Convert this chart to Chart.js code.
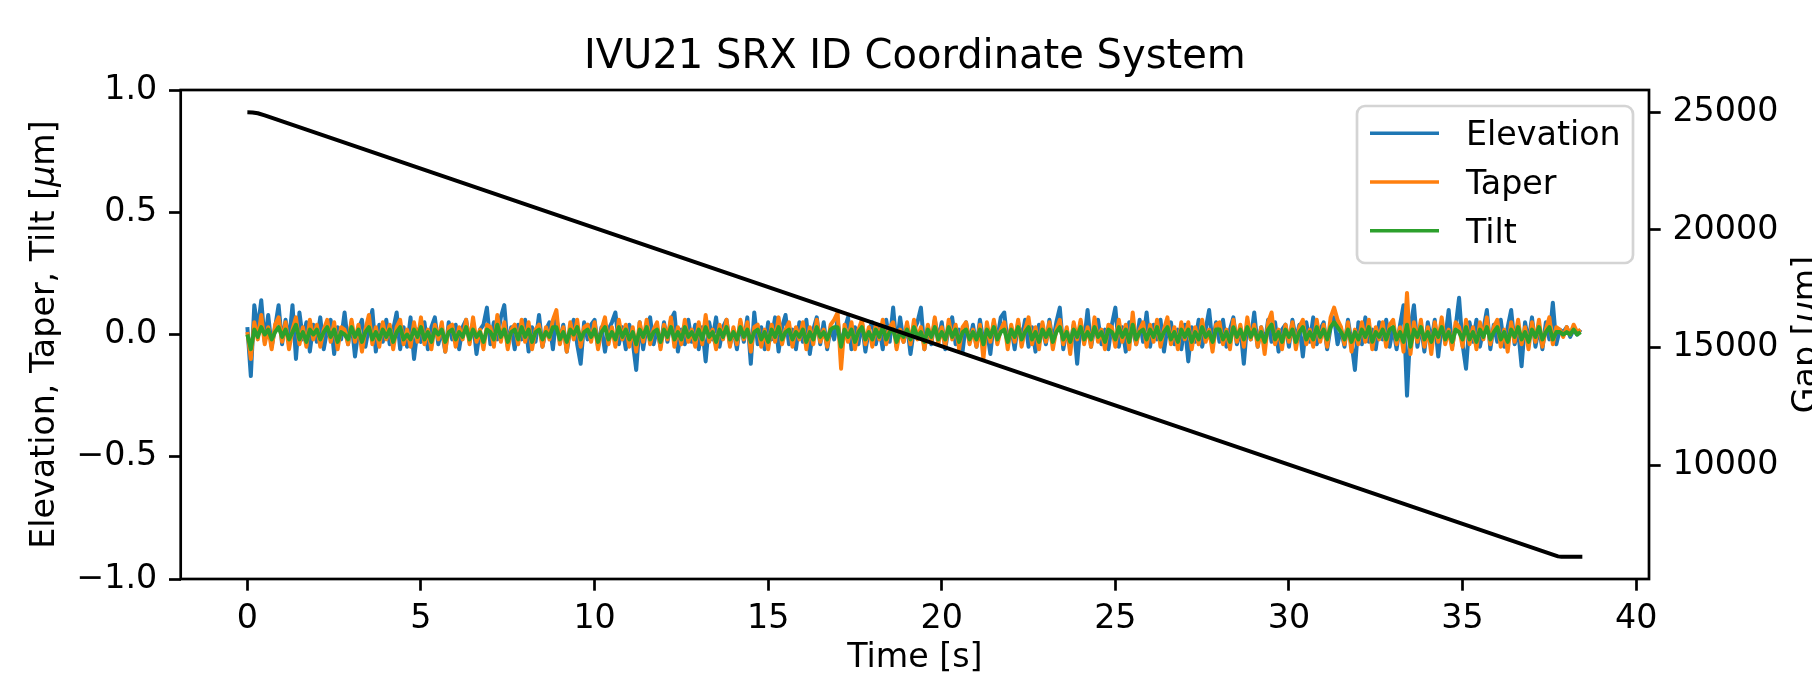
<!DOCTYPE html>
<html>
<head>
<meta charset="utf-8">
<script src="https://cdn.jsdelivr.net/npm/chart.js@4.4.1/dist/chart.umd.min.js"></script>
<style>
  html, body { margin: 0; padding: 0; background: #fff; }
  #wrap { width: 1812px; height: 677px; }
</style>
</head>
<body>
<div id="wrap"><canvas id="chart" width="1812" height="677"></canvas></div>
<script>
// ── DATA ──
// noise traces are sampled every 0.1 s from t = 0 (one row = one second)
const sampleStep = 0.1;

const elevation = [
  0.03, -0.17, 0.12, 0.02, 0.14, -0.03, 0.08, -0.05, 0.03, 0.12,
  -0.04, 0.06, -0.03, 0.12, -0.10, 0.09, -0.02, 0.05, -0.07, 0.04,
  -0.03, 0.07, -0.06, 0.02, 0.06, -0.08, 0.03, -0.02, 0.09, -0.04,
  0.05, -0.09, 0.02, 0.06, -0.05, 0.03, 0.10, -0.07, 0.04, -0.03,
  0.06, -0.04, 0.02, 0.09, -0.06, 0.03, -0.05, 0.07, -0.10, 0.02,
  -0.03, 0.05, -0.06, 0.03, 0.07, -0.04, 0.02, -0.07, 0.05, -0.02,
  0.04, -0.06, 0.03, 0.06, -0.03, 0.05, -0.08, 0.02, 0.04, 0.11,
  -0.04, 0.05, -0.02, 0.07, 0.12, -0.05, 0.03, -0.06, 0.04, -0.02,
  0.06, -0.07, 0.03, -0.03, 0.08, -0.05, 0.02, 0.05, -0.06, 0.07,
  -0.03, 0.04, -0.07, 0.02, 0.06, -0.04, -0.12, 0.05, -0.02, 0.04,
  0.06, -0.05, 0.03, -0.07, 0.02, 0.05, 0.09, -0.04, 0.03, -0.06,
  0.04, -0.03, -0.145, 0.05, -0.06, 0.03, 0.07, -0.04, 0.02, -0.05,
  0.05, -0.03, 0.06, 0.09, -0.07, 0.02, -0.04, 0.06, -0.03, 0.04,
  -0.06, 0.03, -0.11, 0.05, -0.02, 0.07, -0.05, 0.03, 0.06, -0.04,
  0.02, -0.06, 0.05, -0.03, 0.07, -0.12, 0.09, -0.04, 0.03, -0.06,
  0.05, -0.02, 0.07, -0.07, 0.03, 0.08, -0.04, 0.02, -0.06, 0.05,
  -0.03, 0.06, -0.08, 0.02, 0.07, -0.04, 0.05, -0.06, 0.03, -0.02,
  0.06, -0.05, 0.02, 0.07, -0.06, 0.03, -0.04, 0.05, -0.07, 0.02,
  0.05, -0.04, 0.03, -0.06, 0.06, -0.03, 0.11, -0.05, 0.07, -0.03,
  0.04, -0.08, 0.02, 0.05, 0.11, -0.06, 0.03, -0.04, 0.06, -0.02,
  0.05, -0.06, 0.03, 0.07, -0.04, 0.02, -0.07, 0.05, -0.03, 0.04,
  -0.05, 0.06, -0.03, 0.02, -0.08, 0.05, -0.02, 0.07, 0.09, -0.04,
  0.03, -0.06, 0.05, -0.02, 0.06, -0.05, 0.03, -0.07, 0.04, 0.02,
  -0.04, 0.06, -0.03, 0.05, 0.11, -0.06, 0.02, -0.05, 0.04, -0.12,
  0.05, -0.03, 0.10, -0.05, 0.03, 0.06, -0.04, 0.02, -0.06, 0.04,
  0.11, -0.05, 0.03, -0.07, 0.05, 0.02, -0.04, 0.06, -0.03, 0.09,
  -0.05, 0.04, -0.02, 0.06, -0.07, 0.03, 0.05, -0.04, 0.02, -0.06,
  0.04, -0.11, 0.03, -0.03, 0.06, -0.05, 0.02, 0.10, -0.04, 0.05,
  -0.03, 0.06, -0.05, 0.02, 0.07, -0.04, 0.03, -0.12, 0.05, -0.02,
  0.09, -0.05, 0.03, -0.04, 0.06, -0.03, 0.05, -0.07, 0.02, 0.04,
  -0.05, 0.06, -0.02, 0.04, -0.09, 0.05, -0.03, 0.07, -0.04, 0.02,
  0.05, -0.06, 0.03, 0.07, -0.04, 0.02, -0.05, 0.06, -0.03, -0.145,
  0.05, -0.04, 0.07, -0.03, 0.02, -0.06, 0.05, -0.02, 0.06, -0.05,
  0.03, -0.06, 0.04, 0.12, -0.25, 0.03, 0.12, -0.05, 0.04, -0.07,
  0.05, -0.03, 0.06, -0.09, 0.04, -0.02, 0.10, -0.05, 0.03, 0.15,
  -0.04, -0.14, 0.05, -0.03, 0.06, -0.05, 0.02, 0.10, -0.06, 0.04,
  -0.03, 0.06, -0.05, 0.03, 0.10, -0.04, 0.02, -0.13, 0.05, -0.03,
  0.07, -0.05, 0.03, -0.06, 0.05, -0.02, 0.13, -0.04, 0.02, 0.01,
  0.03, -0.01, 0.02, 0.00, 0.02
];

const taper = [
  0.01, -0.10, 0.05, -0.02, 0.08, -0.04, 0.03, -0.06, 0.04, 0.07,
  -0.03, 0.05, -0.06, 0.02, 0.07, -0.04, 0.03, -0.05, 0.06, -0.02,
  0.04, -0.05, 0.02, 0.06, -0.03, 0.05, -0.06, 0.03, 0.02, -0.04,
  0.06, -0.03, 0.04, -0.07, 0.02, 0.08, -0.04, 0.03, -0.05, 0.05,
  -0.02, 0.04, -0.06, 0.03, 0.06, -0.04, 0.02, -0.05, 0.05, -0.03,
  0.07, -0.04, 0.02, -0.06, 0.04, -0.02, 0.05, -0.07, 0.03, 0.04,
  -0.05, 0.03, -0.02, 0.06, -0.04, 0.07, -0.03, 0.02, -0.06, 0.04,
  0.03, -0.05, 0.08, -0.03, 0.05, -0.06, 0.02, 0.04, -0.04, 0.06,
  -0.03, 0.05, -0.06, 0.02, 0.04, -0.05, 0.03, -0.02, 0.06, 0.10,
  -0.04, 0.03, -0.07, 0.05, -0.02, 0.06, -0.05, 0.03, 0.04, -0.03,
  0.05, -0.06, 0.02, 0.07, -0.04, 0.03, -0.05, 0.06, -0.02, 0.04,
  -0.05, 0.03, -0.07, 0.05, -0.03, 0.06, -0.04, 0.02, 0.05, -0.06,
  0.04, -0.02, 0.07, -0.05, 0.03, -0.04, 0.06, -0.03, 0.02, -0.05,
  0.05, -0.04, 0.08, -0.03, 0.02, -0.06, 0.04, -0.02, 0.06, -0.05,
  0.03, -0.04, 0.06, -0.02, 0.05, -0.07, 0.03, 0.04, -0.05, 0.02,
  -0.06, 0.04, -0.03, 0.07, -0.04, 0.02, 0.05, -0.05, 0.03, -0.02,
  0.05, -0.06, 0.03, -0.04, 0.06, -0.03, 0.02, -0.05, 0.04, 0.06,
  0.09, -0.14, 0.04, -0.03, 0.05, -0.06, 0.02, 0.06, -0.04, 0.03,
  -0.05, 0.04, -0.02, 0.06, -0.04, 0.03, 0.05, -0.06, 0.02, -0.03,
  0.05, -0.04, 0.06, -0.02, 0.03, -0.06, 0.04, -0.03, 0.07, -0.04,
  0.03, -0.05, 0.06, -0.02, 0.04, -0.06, 0.03, 0.05, -0.04, 0.02,
  -0.05, 0.04, -0.10, 0.05, -0.03, 0.06, -0.04, 0.02, 0.05, -0.06,
  0.04, -0.03, 0.06, -0.05, 0.02, 0.07, -0.04, 0.03, -0.06, 0.05,
  -0.03, 0.05, -0.06, 0.02, 0.06, -0.04, 0.03, -0.08, 0.05, -0.02,
  0.06, -0.04, 0.03, -0.05, 0.07, -0.03, 0.02, -0.06, 0.04, 0.03,
  -0.05, 0.06, -0.03, 0.04, -0.06, 0.09, -0.04, 0.02, 0.05, -0.05,
  0.04, -0.03, 0.06, -0.05, 0.02, 0.07, -0.04, 0.03, -0.06, 0.05,
  -0.02, 0.05, -0.06, 0.03, -0.04, 0.06, -0.03, 0.02, -0.07, 0.04,
  0.05, -0.04, 0.02, -0.06, 0.06, -0.03, 0.04, -0.05, 0.07, -0.02,
  0.04, -0.05, 0.03, -0.08, 0.05, 0.09, -0.04, 0.02, -0.06, 0.04,
  -0.03, 0.05, -0.06, 0.03, 0.06, -0.04, 0.02, -0.05, 0.06, -0.03,
  0.04, -0.05, 0.07, 0.11, 0.06, 0.03, -0.04, 0.05, -0.07, 0.02,
  -0.04, 0.05, -0.03, 0.06, -0.06, 0.03, -0.02, 0.05, -0.05, 0.04,
  0.06, -0.04, 0.03, -0.07, 0.17, -0.08, 0.05, -0.03, 0.06, -0.05,
  0.03, -0.08, 0.05, -0.03, 0.07, -0.04, 0.02, -0.06, 0.05, 0.03,
  -0.05, 0.06, -0.04, 0.03, -0.06, 0.05, -0.02, 0.07, -0.04, 0.03,
  0.06, -0.05, 0.02, -0.07, 0.05, -0.03, 0.06, -0.04, 0.03, -0.06,
  0.05, -0.03, 0.06, -0.05, 0.02, 0.07, -0.04, 0.03, 0.02, -0.01,
  0.03, 0.00, 0.04, 0.01, 0.02
];

const tilt = [
  0.00, -0.06, 0.02, -0.01, 0.03, 0.00, 0.02, -0.02, 0.01, 0.03,
  -0.01, 0.02, -0.02, 0.01, 0.04, -0.02, 0.01, -0.03, 0.02, 0.00,
  0.02, -0.02, 0.01, 0.03, -0.01, 0.02, -0.03, 0.01, 0.00, -0.02,
  0.03, -0.01, 0.02, -0.03, 0.01, 0.03, -0.02, 0.01, -0.02, 0.02,
  -0.01, 0.02, -0.03, 0.01, 0.03, -0.02, 0.00, -0.02, 0.02, -0.01,
  0.03, -0.02, 0.01, -0.03, 0.02, 0.00, 0.02, -0.03, 0.01, 0.02,
  -0.02, 0.01, -0.01, 0.03, -0.02, 0.02, -0.01, 0.01, -0.03, 0.02,
  0.01, -0.02, 0.04, -0.01, 0.02, -0.03, 0.01, 0.02, -0.02, 0.03,
  -0.01, 0.02, -0.03, 0.01, 0.02, -0.02, 0.01, -0.01, 0.03, 0.03,
  -0.02, 0.01, -0.03, 0.02, 0.00, 0.03, -0.02, 0.01, 0.02, -0.01,
  0.02, -0.03, 0.01, 0.03, -0.02, 0.01, -0.02, 0.03, -0.01, 0.02,
  -0.02, 0.01, -0.04, 0.02, -0.01, 0.03, -0.02, 0.01, 0.02, -0.03,
  0.02, -0.01, 0.03, -0.02, 0.01, -0.02, 0.03, -0.01, 0.01, -0.02,
  0.02, -0.02, 0.03, -0.01, 0.01, -0.03, 0.02, -0.01, 0.03, -0.02,
  0.01, -0.02, 0.03, -0.01, 0.02, -0.03, 0.01, 0.02, -0.02, 0.01,
  -0.03, 0.02, -0.01, 0.03, -0.02, 0.01, 0.02, -0.02, 0.01, -0.01,
  0.02, -0.03, 0.01, -0.02, 0.03, -0.01, 0.01, -0.02, 0.02, 0.03,
  0.03, -0.05, 0.02, -0.01, 0.02, -0.03, 0.01, 0.03, -0.02, 0.01,
  -0.02, 0.02, -0.01, 0.03, -0.02, 0.01, 0.02, -0.03, 0.01, -0.01,
  0.02, -0.02, 0.03, -0.01, 0.01, -0.03, 0.02, -0.01, 0.03, -0.02,
  0.01, -0.02, 0.03, -0.01, 0.02, -0.03, 0.01, 0.02, -0.02, 0.01,
  -0.02, 0.02, -0.04, 0.02, -0.01, 0.03, -0.02, 0.01, 0.02, -0.03,
  0.02, -0.01, 0.03, -0.02, 0.01, 0.03, -0.02, 0.01, -0.03, 0.02,
  -0.01, 0.02, -0.03, 0.01, 0.03, -0.02, 0.01, -0.03, 0.02, -0.01,
  0.03, -0.02, 0.01, -0.02, 0.03, -0.01, 0.01, -0.03, 0.02, 0.01,
  -0.02, 0.03, -0.01, 0.02, -0.03, 0.04, -0.02, 0.01, 0.02, -0.02,
  0.02, -0.01, 0.03, -0.02, 0.01, 0.03, -0.02, 0.01, -0.03, 0.02,
  -0.01, 0.02, -0.03, 0.01, -0.02, 0.03, -0.01, 0.01, -0.03, 0.02,
  0.02, -0.02, 0.01, -0.03, 0.03, -0.01, 0.02, -0.02, 0.03, -0.01,
  0.02, -0.02, 0.01, -0.03, 0.02, 0.04, -0.02, 0.01, -0.03, 0.02,
  -0.01, 0.02, -0.03, 0.01, 0.03, -0.02, 0.01, -0.02, 0.03, -0.01,
  0.02, -0.02, 0.03, 0.05, 0.03, 0.01, -0.02, 0.02, -0.03, 0.01,
  -0.02, 0.02, -0.01, 0.03, -0.03, 0.01, -0.01, 0.02, -0.02, 0.02,
  0.03, -0.02, 0.01, -0.03, 0.04, -0.05, 0.02, -0.01, 0.03, -0.02,
  0.01, -0.03, 0.02, -0.01, 0.03, -0.02, 0.01, -0.03, 0.02, 0.01,
  -0.02, 0.03, -0.02, 0.01, -0.03, 0.02, -0.01, 0.03, -0.02, 0.01,
  0.03, -0.02, 0.01, -0.03, 0.02, -0.01, 0.03, -0.02, 0.01, -0.03,
  0.02, -0.01, 0.03, -0.02, 0.01, 0.03, -0.02, 0.01, 0.01, 0.00,
  0.01, 0.00, 0.02, 0.00, 0.01
];

// gap ramp (right axis)
const gapTime  = [0, 0.15, 0.3, 0.5, 37.6, 37.75, 37.85, 38.45];
const gapValue = [25000, 24995, 24960, 24870, 6207, 6135, 6120, 6120];

const xTicks   = [0, 5, 10, 15, 20, 25, 30, 35, 40];
const yTicks   = [-1, -0.5, 0, 0.5, 1];
const gapTicks = [10000, 15000, 20000, 25000];

const FONT = "'DejaVu Sans', sans-serif";
const FS = 33.3;

// ── HELPERS ──
function pts(values) {
  return values.map((v, i) => ({ x: i * sampleStep, y: v }));
}

function ls(color, order, axisId) {
  return {
    borderColor: color,
    backgroundColor: 'transparent',
    borderWidth: 4,
    pointRadius: 0,
    tension: 0,
    fill: false,
    borderJoinStyle: 'round',
    order: order,
    yAxisID: axisId || 'y'
  };
}

// text with italic runs, centred on (cx, y) in current transform
function drawRuns(ctx, runs, cx, y) {
  const widths = runs.map(([t, it]) => {
    ctx.font = (it ? 'italic ' : '') + FS + 'px ' + FONT;
    return ctx.measureText(t).width;
  });
  let x = cx - widths.reduce((a, b) => a + b, 0) / 2;
  ctx.textAlign = 'left';
  runs.forEach(([t, it], i) => {
    ctx.font = (it ? 'italic ' : '') + FS + 'px ' + FONT;
    ctx.fillText(t, x, y);
    x += widths[i];
  });
}

// ── FRAME, TITLES, LEGEND ──
const decor = {
  id: 'decor',
  afterDraw(chart) {
    const { ctx, chartArea: a } = chart;
    const midX = (a.left + a.right) / 2;
    const midY = (a.top + a.bottom) / 2;
    ctx.save();
    ctx.fillStyle = '#000';
    ctx.textBaseline = 'alphabetic';

    // axes frame
    ctx.strokeStyle = '#000';
    ctx.lineWidth = 2.7;
    ctx.strokeRect(a.left, a.top, a.right - a.left, a.bottom - a.top);

    // title
    ctx.font = '40px ' + FONT;
    ctx.textAlign = 'center';
    ctx.fillText('IVU21 SRX ID Coordinate System', midX, 67.5);

    // x label
    ctx.font = FS + 'px ' + FONT;
    ctx.fillText('Time [s]', midX, 667);

    // left y label
    ctx.save();
    ctx.translate(54, midY);
    ctx.rotate(-Math.PI / 2);
    drawRuns(ctx, [['Elevation, Taper, Tilt [', false], ['\u03bc', true], ['m]', false]], 0, 0);
    ctx.restore();

    // right y label (runs off the canvas edge, as in the original)
    ctx.save();
    ctx.translate(1816, midY);
    ctx.rotate(-Math.PI / 2);
    drawRuns(ctx, [['Gap [', false], ['\u03bc', true], ['m]', false]], 0, 0);
    ctx.restore();

    // legend
    const box = { x: 1357, y: 106, w: 276, h: 157 };
    ctx.beginPath();
    ctx.roundRect(box.x, box.y, box.w, box.h, 8);
    ctx.fillStyle = 'rgba(255,255,255,0.8)';
    ctx.fill();
    ctx.strokeStyle = '#d4d4d4';
    ctx.lineWidth = 2.7;
    ctx.stroke();
    const items = chart.data.datasets.filter(d => d.inLegend);
    items.forEach((d, i) => {
      const y = 133.3 + i * 48.7;
      ctx.beginPath();
      ctx.moveTo(1370, y);
      ctx.lineTo(1439, y);
      ctx.strokeStyle = d.borderColor;
      ctx.lineWidth = 3.5;
      ctx.stroke();
      ctx.fillStyle = '#000';
      ctx.font = FS + 'px ' + FONT;
      ctx.textAlign = 'left';
      ctx.fillText(d.label, 1466, y + 12);
    });
    ctx.restore();
  }
};

// ── CHART ──
const tickFont = { family: FONT, size: FS };
const tickGrid = {
  display: true,
  drawOnChartArea: false,
  drawTicks: true,
  tickLength: 11.7,
  tickWidth: 2.7,
  tickColor: '#000'
};

new Chart(document.getElementById('chart').getContext('2d'), {
  type: 'line',
  data: {
    datasets: [
      { label: 'Gap', data: gapTime.map((t, i) => ({ x: t, y: gapValue[i] })), ...ls('#000000', 0, 'y2') },
      { label: 'Elevation', inLegend: true, data: pts(elevation), ...ls('#1f77b4', 3) },
      { label: 'Taper', inLegend: true, data: pts(taper), ...ls('#ff7f0e', 2) },
      { label: 'Tilt', inLegend: true, data: pts(tilt), ...ls('#2ca02c', 1) }
    ]
  },
  options: {
    responsive: false,
    animation: false,
    devicePixelRatio: 1,
    parsing: false,
    normalized: true,
    layout: { padding: { top: 90, left: 0, right: 0, bottom: 0 } },
    plugins: {
      legend: { display: false },
      title: { display: false },
      tooltip: { enabled: false }
    },
    scales: {
      x: {
        type: 'linear',
        position: 'bottom',
        min: -1.92,
        max: 40.37,
        grid: tickGrid,
        border: { display: false },
        afterBuildTicks: s => { s.ticks = xTicks.map(v => ({ value: v })); },
        afterFit: s => { s.height = 98; },
        ticks: {
          font: tickFont,
          color: '#000',
          padding: 9,
          maxRotation: 0,
          autoSkip: false,
          callback: v => String(v)
        }
      },
      y: {
        type: 'linear',
        position: 'left',
        min: -1,
        max: 1,
        grid: tickGrid,
        border: { display: false },
        afterBuildTicks: s => { s.ticks = yTicks.map(v => ({ value: v })); },
        afterFit: s => { s.width = 180.7; },
        ticks: {
          font: tickFont,
          color: '#000',
          padding: 11.7,
          autoSkip: false,
          callback: v => v.toFixed(1).replace('-', '\u2212')
        }
      },
      y2: {
        type: 'linear',
        position: 'right',
        min: 5174,
        max: 25947,
        grid: tickGrid,
        border: { display: false },
        afterBuildTicks: s => { s.ticks = gapTicks.map(v => ({ value: v })); },
        afterFit: s => { s.width = 163; },
        ticks: {
          font: tickFont,
          color: '#000',
          padding: 11.7,
          autoSkip: false,
          callback: v => String(v)
        }
      }
    }
  },
  plugins: [decor]
});
</script>
</body>
</html>
